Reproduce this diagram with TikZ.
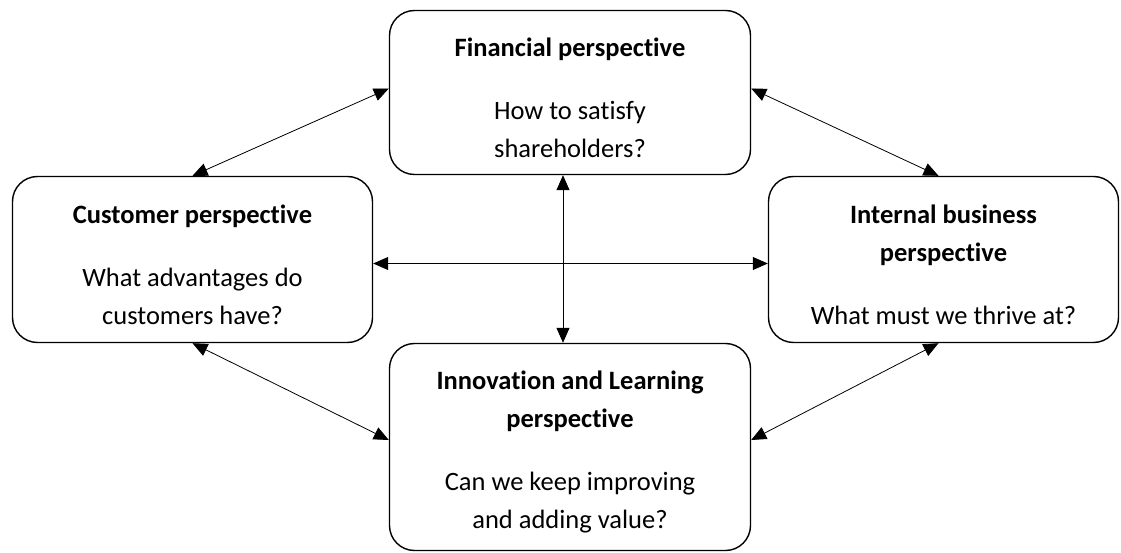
\documentclass[tikz,border=0pt]{standalone}
\usepackage{fontspec}
\setmainfont{Carlito}[Ligatures=NoCommon]
\usetikzlibrary{arrows.meta}
% extra room above the first line of a box
\newcommand\topstrut{\rule{0pt}{29pt}}

\begin{document}
\begin{tikzpicture}[x=1pt,y=-1pt,
    persp/.style={draw,line width=1.4pt,rounded corners=25pt,align=center,
                  inner sep=0pt,font=\fontsize{26.5}{38}\selectfont},
    twoway/.style={{Triangle[length=15pt,width=13pt]}-{Triangle[length=15pt,width=13pt]},
                   line width=0.8pt}]
  \useasboundingbox (0,0) rectangle (1121,553);

  % the four perspectives
  \node[persp,minimum width=361pt,minimum height=164pt] (fin) at (570,92.5)
    {\topstrut\textbf{Financial perspective}\\[25pt]How to satisfy\\shareholders?};
  \node[persp,minimum width=360pt,minimum height=166pt] (cust) at (192.5,259.5)
    {\topstrut\textbf{Customer perspective}\\[25pt]What advantages do\\customers have?};
  \node[persp,minimum width=350pt,minimum height=166pt] (intl) at (943.5,259.5)
    {\topstrut\textbf{Internal business}\\\textbf{perspective}\\[25pt]What must we thrive at?};
  \node[persp,minimum width=361pt,minimum height=207pt] (inno) at (570,447)
    {\topstrut\textbf{Innovation and Learning}\\\textbf{perspective}\\[25pt]Can we keep improving\\and adding value?};

  % links between them
  \draw[twoway] (cust.north) -- ([yshift=4pt]fin.west);
  \draw[twoway] ([yshift=4pt]fin.east) -- ([xshift=-5pt]intl.north);
  \draw[twoway] ([xshift=-7pt]fin.south) -- ([xshift=-7pt]inno.north);
  \draw[twoway] ([yshift=-4pt]cust.east) -- ([yshift=-4pt]intl.west);
  \draw[twoway] (cust.south) -- ([yshift=7pt]inno.west);
  \draw[twoway] ([xshift=-5pt]intl.south) -- ([yshift=7pt]inno.east);
\end{tikzpicture}
\end{document}
